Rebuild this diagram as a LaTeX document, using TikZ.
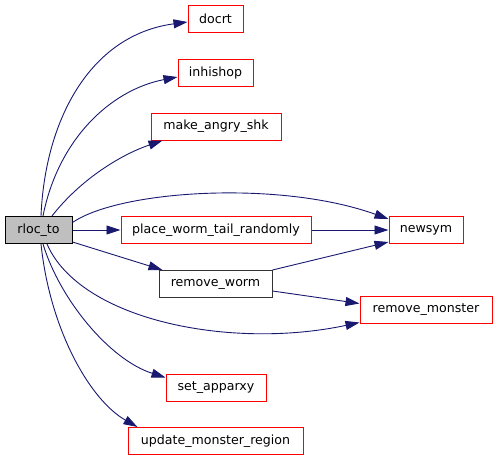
\documentclass[tikz,border=0pt]{standalone}
\usepackage{fontspec}
\setmainfont{DejaVu Sans}
\usetikzlibrary{arrows.meta}
\definecolor{edgeblue}{HTML}{191970}
\definecolor{boxgray}{HTML}{BFBFBF}
\definecolor{boxred}{HTML}{FF0000}
\begin{document}
\begin{tikzpicture}[x=1pt,y=-1pt,
  fn/.style={draw=boxred,line width=1pt,fill=white,inner sep=0pt,font=\fontsize{12.6}{15}\selectfont,minimum height=27pt},
  plain/.style={fn,draw=black!80},
  cur/.style={fn,draw=black,fill=boxgray},
  call/.style={draw=edgeblue,line width=0.9pt,-{Triangle[length=14pt,width=9pt,fill=edgeblue]}}]
\useasboundingbox (0,0) rectangle (499,461);
\node[cur,minimum width=67pt] (rloc) at (38.5,230) {rloc\_to};
\node[fn,minimum width=55pt] (docrt) at (215.5,19) {docrt};
\node[fn,minimum width=75pt] (inh) at (215.5,73) {inhishop};
\node[fn,minimum width=130pt] (mas) at (216,126.5) {make\_angry\_shk};
\node[fn,minimum width=190pt] (pwt) at (216,230) {place\_worm\_tail\_randomly};
\node[fn,minimum width=74pt] (ns) at (426,230) {newsym};
\node[plain,minimum width=113pt] (rw) at (215.5,284) {remove\_worm};
\node[fn,minimum width=132pt] (rm) at (426,309.5) {remove\_monster};
\node[fn,minimum width=100pt] (sa) at (216,387.5) {set\_apparxy};
\node[fn,minimum width=175pt] (umr) at (215.5,441) {update\_monster\_region};

\draw[call] ([xshift=2.5pt]rloc.north) .. controls (45,120) and (90,35) .. ([yshift=-3pt]docrt.west);
\draw[call] ([xshift=4.5pt]rloc.north) .. controls (58,140) and (110,90) .. ([yshift=-4pt]inh.west);
\draw[call] ([xshift=13.5pt]rloc.north) .. controls (80,180) and (120,155) .. ([xshift=12pt]mas.south west);
\draw[call] ([yshift=7.5pt]rloc.east) .. controls (120,190) and (280,180) .. ([yshift=-3pt]ns.north west);
\draw[call] (rloc.east) -- (pwt.west);
\draw[call] ([yshift=-12pt]rloc.east) -- ([xshift=4pt]rw.north west);
\draw[call] ([xshift=8.5pt]rloc.south) .. controls (80,320) and (230,350) .. ([yshift=1pt]rm.south west);
\draw[call] ([xshift=4.5pt]rloc.south) .. controls (60,300) and (110,360) .. ([yshift=-4pt]sa.north west);
\draw[call] ([xshift=2.5pt]rloc.south) .. controls (50,330) and (90,400) .. ([xshift=10pt]umr.north west);
\draw[call] (pwt.east) -- (ns.west);
\draw[call] (rw.north east) -- ([yshift=2pt]ns.south west);
\draw[call] ([yshift=-7pt]rw.east) -- ([yshift=6pt]rm.west);
\end{tikzpicture}
\end{document}
